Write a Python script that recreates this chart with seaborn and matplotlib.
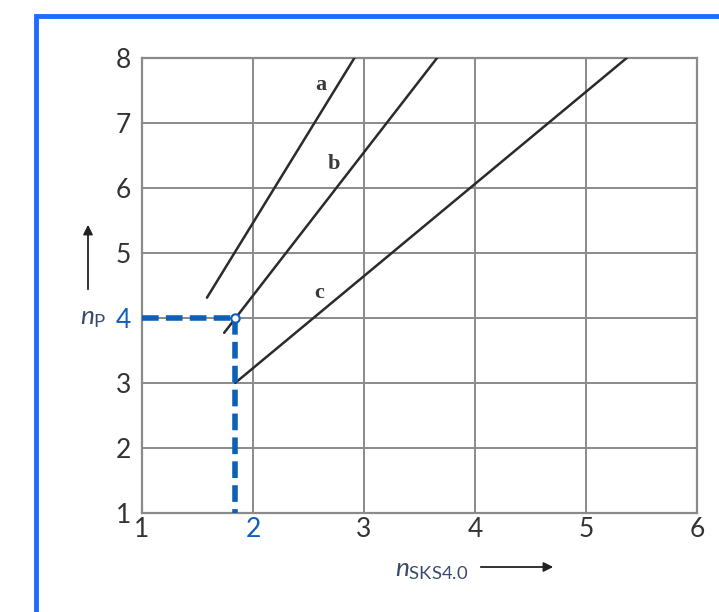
import matplotlib
matplotlib.use("Agg")
import matplotlib.pyplot as plt
from matplotlib.patches import Rectangle, FancyArrowPatch
import seaborn as sns
import pandas as pd

# curves (start / end points)
curve_names = ["a", "b", "c"]
curve_x = [[1.585, 2.915], [1.74, 3.66], [1.84, 5.37]]
curve_y = [[4.31, 8.0], [3.77, 8.0], [3.0, 8.0]]
label_x = [2.61, 2.73, 2.60]
label_y = [7.58, 6.36, 4.38]

# example reading
sel_x = 1.84
sel_y = 4.0

x_ticks = [1, 2, 3, 4, 5, 6]
y_ticks = [1, 2, 3, 4, 5, 6, 7, 8]

sns.set_style("white")
plt.rcParams["font.family"] = ["Lato", "DejaVu Sans"]
plt.rcParams["mathtext.fontset"] = "custom"
plt.rcParams["mathtext.rm"] = "Lato"
plt.rcParams["mathtext.it"] = "Lato:italic"

grey = "#8a8a8a"
dark = "#2b2b2b"
blue = "#0d5fb8"

rows = []
for n, xs, ys in zip(curve_names, curve_x, curve_y):
    for x, y in zip(xs, ys):
        rows.append({"curve": n, "x": x, "y": y})
df = pd.DataFrame(rows)

fig = plt.figure(figsize=(7.19, 6.12), dpi=100)
ax = fig.add_axes([0.1975, 0.1618, 0.772, 0.744])

sns.lineplot(data=df, x="x", y="y", hue="curve", palette=[dark] * 3,
             linewidth=1.8, legend=False, ax=ax, zorder=3)

for n, lx, ly in zip(curve_names, label_x, label_y):
    ax.text(lx, ly, n, fontsize=16, fontweight="bold", color="#3a3a3a",
            family="Liberation Serif", ha="center", va="center")

# blue dashed reading lines
ax.plot([1, sel_x], [sel_y, sel_y], color=blue, lw=4, dashes=(3, 1.3),
        zorder=4, solid_capstyle="butt")
ax.plot([sel_x, sel_x], [sel_y, 1], color=blue, lw=4, dashes=(3, 1.3),
        zorder=4, solid_capstyle="butt")
ax.plot([sel_x], [sel_y], marker="o", ms=6, mfc="white", mec=blue, mew=1.5,
        zorder=5, clip_on=False)

ax.set_xlim(1, 6)
ax.set_ylim(1, 8)
ax.set_xticks(x_ticks)
ax.set_yticks(y_ticks)
ax.set_xticklabels([str(t) for t in x_ticks])
ax.set_yticklabels([str(t) for t in y_ticks])
ax.grid(True, color=grey, lw=1.4)
for s in ax.spines.values():
    s.set_color(grey)
    s.set_linewidth(1.6)
ax.tick_params(length=0, labelsize=19, colors="#333333", pad=3)
ax.tick_params(axis="y", pad=8)
for t in ax.get_xticklabels():
    if t.get_text() == "2":
        t.set_color(blue)
for t in ax.get_yticklabels():
    if t.get_text() == "4":
        t.set_color(blue)
ax.set_xlabel("")
ax.set_ylabel("")

# axis names with arrows
fig.text(93 / 719, 1 - 318 / 612, r"$n_{\mathrm{P}}$", fontsize=19,
         color="#3a4a6a", ha="center", va="center")
fig.add_artist(FancyArrowPatch(
    (88 / 719, 1 - 292 / 612), (88 / 719, 1 - 222 / 612),
    transform=fig.transFigure, arrowstyle="-|>", mutation_scale=14,
    color="#222222", lw=1.3))
fig.text(432 / 719, 1 - 570 / 612, r"$n_{\mathrm{SKS4.0}}$", fontsize=19,
         color="#3a4a6a", ha="center", va="center")
fig.add_artist(FancyArrowPatch(
    (478 / 719, 1 - 567 / 612), (556 / 719, 1 - 567 / 612),
    transform=fig.transFigure, arrowstyle="-|>", mutation_scale=14,
    color="#222222", lw=1.3))

# blue frame
fig.add_artist(Rectangle((35.5 / 719, -0.1), 1.2, 1 - 15.5 / 612 + 0.1,
                         transform=fig.transFigure, fill=False,
                         edgecolor="#1e6bff", lw=3.5))

fig.savefig("out.png", dpi=100)
